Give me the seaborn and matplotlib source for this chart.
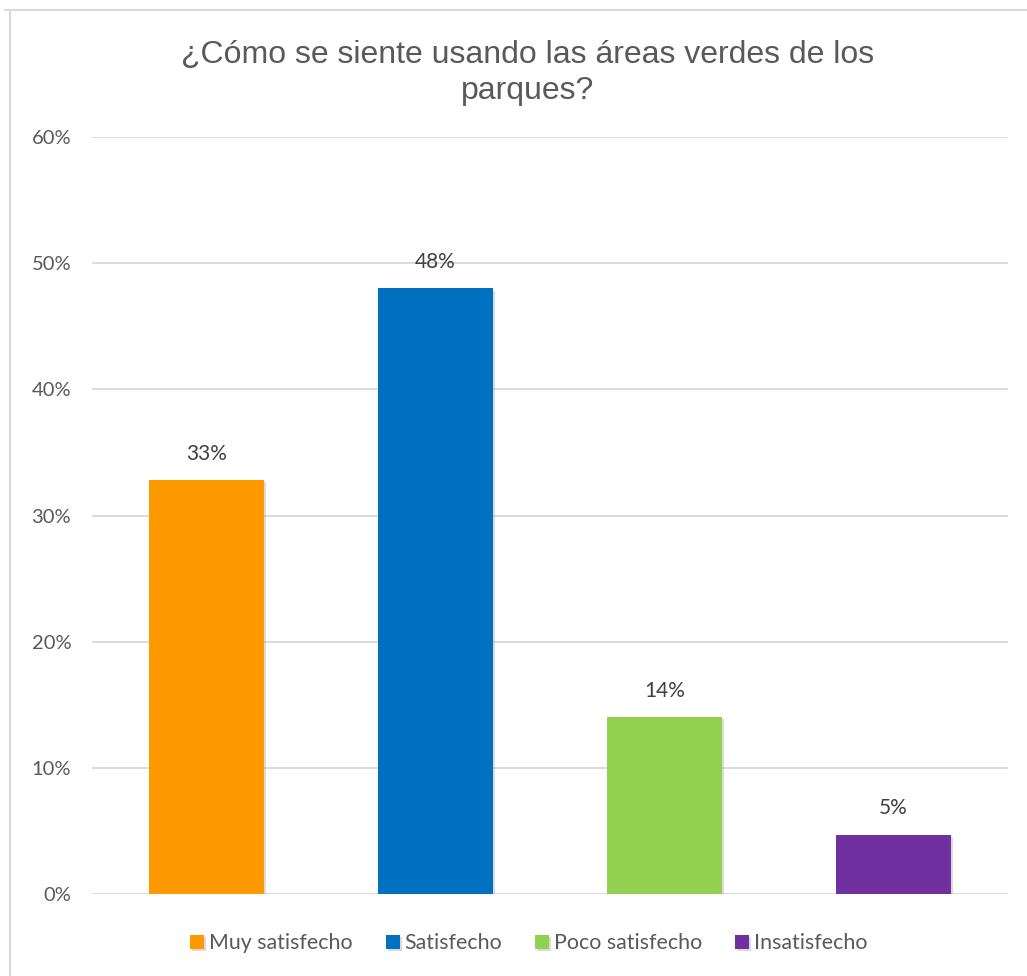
import matplotlib
matplotlib.use("Agg")
import matplotlib.pyplot as plt
import matplotlib.patheffects as pe
from matplotlib.lines import Line2D
from matplotlib.ticker import FuncFormatter
import seaborn as sns
import pandas as pd

categories = ["Muy satisfecho", "Satisfecho", "Poco satisfecho", "Insatisfecho"]
values = [0.328, 0.480, 0.140, 0.047]
colors = ["#FF9900", "#0070C0", "#92D050", "#7030A0"]
title = "¿Cómo se siente usando las áreas verdes de los\nparques?"

sns.set_theme(style="white")
plt.rcParams['font.family'] = ['Lato', 'DejaVu Sans']

df = pd.DataFrame({"cat": categories, "val": values})

fig = plt.figure(figsize=(10.27, 9.76), dpi=100)
ax = fig.add_axes([0.0896, 0.084, 0.8919, 0.7756])

sns.barplot(data=df, x="cat", y="val", hue="cat", palette=colors,
            order=categories, hue_order=categories, dodge=False,
            width=0.505, legend=True, ax=ax, saturation=1, linewidth=0)

for p in ax.patches:
    p.set_linewidth(0)
    p.set_path_effects([pe.SimplePatchShadow(offset=(1.5, -1.5), shadow_rgbFace="#999999", alpha=0.35), pe.Normal()])

for c in ax.containers:
    ax.bar_label(c, labels=[f"{v*100:.0f}%" for v in c.datavalues],
                 padding=12, fontsize=15, color="#404040")

ax.set_ylim(0, 0.6)
ax.set_xlim(-0.5, 3.5)
ax.set_yticks([0, 0.1, 0.2, 0.3, 0.4, 0.5, 0.6])
ax.yaxis.set_major_formatter(FuncFormatter(lambda v, _: f"{v*100:.0f}%"))
ax.tick_params(axis='y', labelsize=14.5, labelcolor="#595959", length=0, pad=15)
ax.set_xticks([])
ax.set_xlabel("")
ax.set_ylabel("")
ax.grid(axis='y', color="#D9D9D9", linewidth=1.3)
ax.set_axisbelow(True)
for s in ax.spines.values():
    s.set_visible(False)

handles, labels = ax.get_legend_handles_labels()
leg = ax.legend(handles, labels, loc="center", bbox_to_anchor=(0.477, -0.065),
                ncol=4, frameon=False, fontsize=15.4, handlelength=0.65,
                handleheight=0.65, handletextpad=0.23, columnspacing=1.54)
for t in leg.get_texts():
    t.set_color("#595959")

fig.text(0.514, 0.959, title, ha="center", va="top", fontsize=23,
         color="#595959", family=["Liberation Sans", "DejaVu Sans"], linespacing=1.27)

fig.add_artist(Line2D([0.005, 1.0], [0.9895, 0.9895], color="#D9D9D9", lw=1.5))
fig.add_artist(Line2D([0.0097, 0.0097], [0.0, 0.9895], color="#D9D9D9", lw=1.5))

fig.savefig("out.png", dpi=100, facecolor="white")
